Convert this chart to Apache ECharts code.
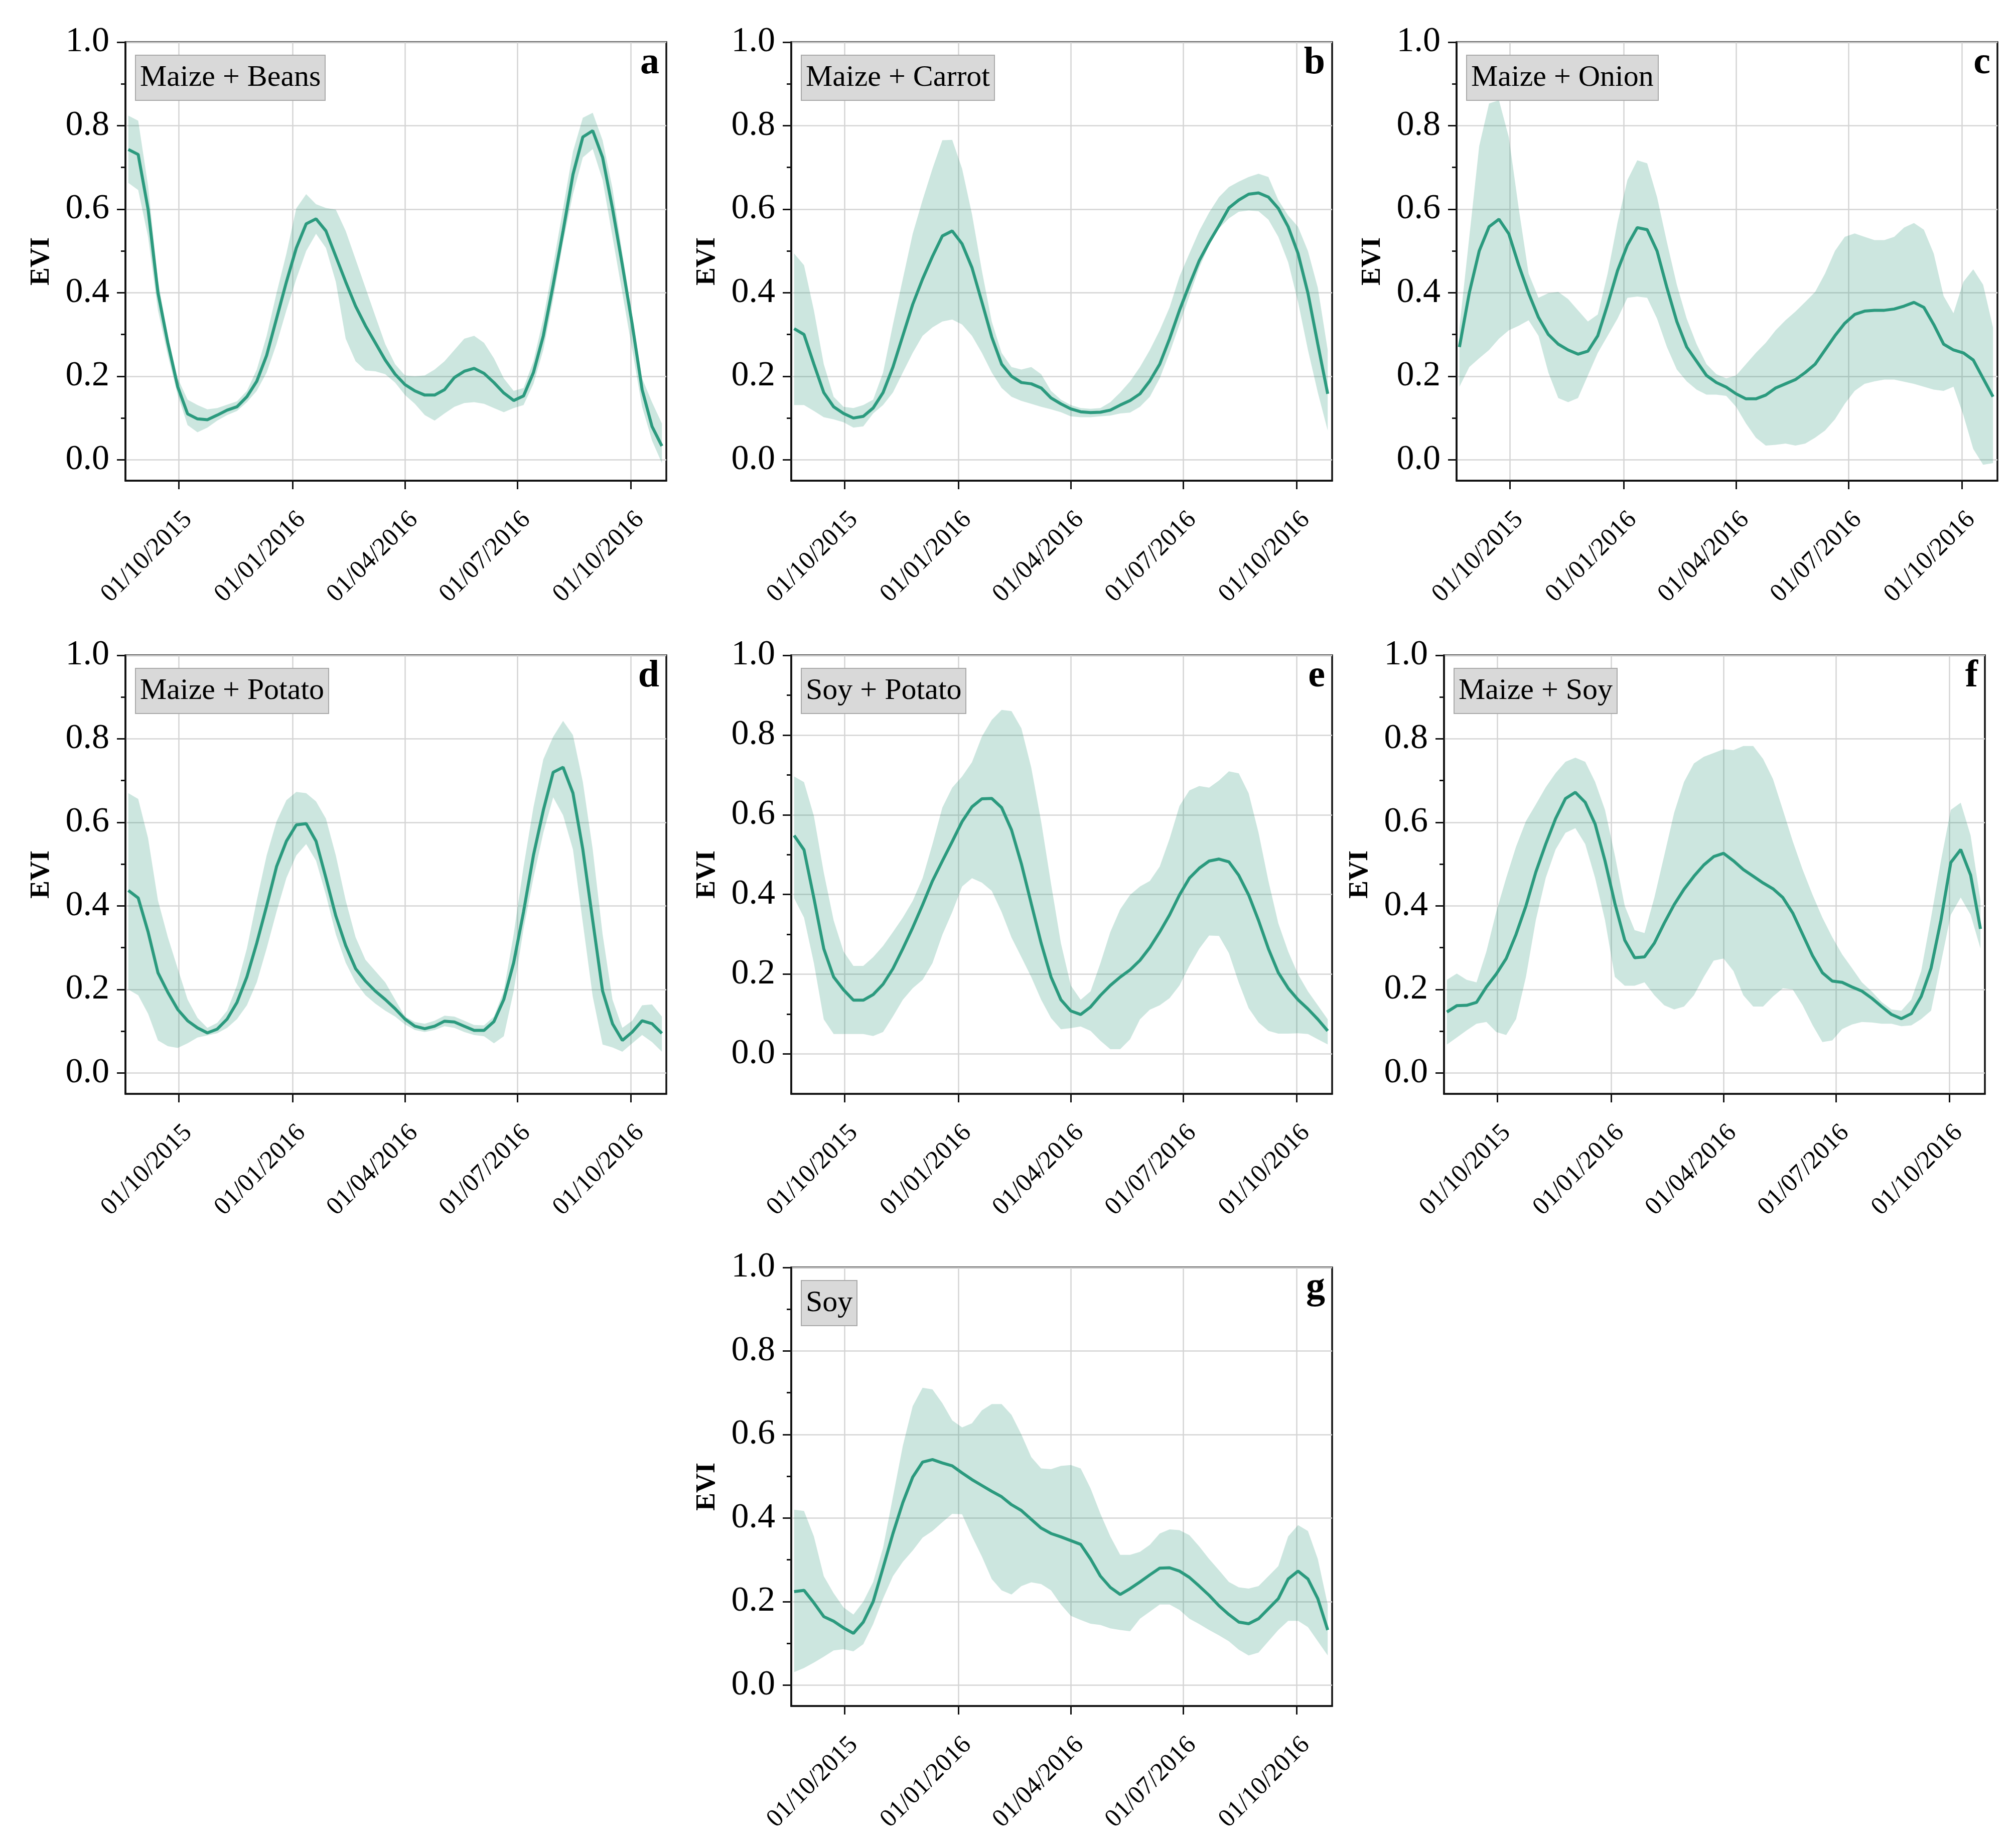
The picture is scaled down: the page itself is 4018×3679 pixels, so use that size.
<!DOCTYPE html>
<html>
<head>
<meta charset="utf-8">
<script src="https://cdn.jsdelivr.net/npm/echarts@6/dist/echarts.min.js"></script>
<style>html,body{margin:0;padding:0;background:#fff}#chart{width:4018px;height:3679px}</style>
</head>
<body>
<div id="chart"></div>
<script>
const dates = ['2015-08-21','2015-08-29','2015-09-06','2015-09-14','2015-09-22','2015-09-30','2015-10-08','2015-10-16','2015-10-24','2015-11-01','2015-11-09','2015-11-17','2015-11-25','2015-12-03','2015-12-11','2015-12-19','2015-12-27','2016-01-04','2016-01-12','2016-01-20','2016-01-28','2016-02-05','2016-02-13','2016-02-21','2016-02-29','2016-03-08','2016-03-16','2016-03-24','2016-04-01','2016-04-09','2016-04-17','2016-04-25','2016-05-03','2016-05-11','2016-05-19','2016-05-27','2016-06-04','2016-06-12','2016-06-20','2016-06-28','2016-07-06','2016-07-14','2016-07-22','2016-07-30','2016-08-07','2016-08-15','2016-08-23','2016-08-31','2016-09-08','2016-09-16','2016-09-24','2016-10-02','2016-10-10','2016-10-18','2016-10-26'];
const tickDates = ['2015-10-01','2016-01-01','2016-04-01','2016-07-01','2016-10-01'];
const yTicks = [0, 0.2, 0.4, 0.6, 0.8, 1.0];
const yMinorTicks = [0.1, 0.3, 0.5, 0.7, 0.9];
const panelNames = ['Maize + Beans','Maize + Carrot','Maize + Onion','Maize + Potato','Soy + Potato','Maize + Soy','Soy'];
const panelLetters = ['a','b','c','d','e','f','g'];

const aMean = [0.743,0.731,0.60,0.40,0.28,0.175,0.11,0.098,0.096,0.107,0.119,0.127,0.151,0.188,0.25,0.338,0.426,0.507,0.565,0.577,0.548,0.487,0.426,0.368,0.321,0.28,0.239,0.205,0.18,0.165,0.155,0.155,0.168,0.197,0.212,0.219,0.207,0.185,0.16,0.142,0.153,0.209,0.297,0.419,0.548,0.683,0.773,0.788,0.724,0.602,0.466,0.324,0.168,0.08,0.033];
const aHigh = [0.824,0.812,0.656,0.43,0.297,0.195,0.144,0.131,0.121,0.124,0.132,0.14,0.165,0.216,0.297,0.399,0.494,0.602,0.636,0.612,0.603,0.599,0.548,0.48,0.412,0.344,0.277,0.229,0.202,0.2,0.202,0.216,0.236,0.263,0.29,0.297,0.28,0.243,0.195,0.165,0.172,0.236,0.338,0.466,0.602,0.738,0.819,0.831,0.765,0.65,0.494,0.344,0.195,0.138,0.087];
const aLow = [0.663,0.646,0.534,0.358,0.25,0.155,0.083,0.066,0.077,0.094,0.107,0.117,0.138,0.165,0.209,0.277,0.358,0.433,0.5,0.541,0.507,0.426,0.29,0.236,0.214,0.212,0.205,0.185,0.155,0.134,0.107,0.094,0.111,0.127,0.136,0.138,0.134,0.124,0.114,0.124,0.131,0.182,0.263,0.385,0.521,0.636,0.724,0.744,0.67,0.534,0.399,0.263,0.127,0.046,-0.008];

const bMean = [0.314,0.30,0.229,0.161,0.127,0.111,0.1,0.104,0.124,0.161,0.222,0.297,0.372,0.433,0.487,0.536,0.548,0.517,0.46,0.378,0.294,0.229,0.2,0.185,0.182,0.172,0.148,0.134,0.122,0.115,0.113,0.114,0.119,0.131,0.142,0.158,0.189,0.229,0.29,0.358,0.419,0.477,0.521,0.561,0.603,0.622,0.636,0.639,0.629,0.602,0.558,0.494,0.399,0.277,0.158];
const bHigh = [0.494,0.466,0.358,0.229,0.151,0.127,0.124,0.131,0.144,0.209,0.324,0.433,0.541,0.622,0.697,0.765,0.766,0.697,0.588,0.453,0.331,0.256,0.222,0.216,0.222,0.205,0.165,0.144,0.131,0.124,0.122,0.124,0.138,0.161,0.188,0.222,0.263,0.31,0.365,0.439,0.494,0.548,0.592,0.629,0.653,0.666,0.677,0.685,0.677,0.622,0.585,0.558,0.5,0.412,0.263];
const bLow = [0.131,0.131,0.117,0.102,0.097,0.09,0.077,0.08,0.111,0.131,0.161,0.209,0.256,0.297,0.317,0.331,0.336,0.324,0.297,0.256,0.209,0.172,0.151,0.141,0.134,0.127,0.121,0.114,0.104,0.102,0.102,0.104,0.106,0.111,0.113,0.127,0.151,0.195,0.256,0.324,0.392,0.46,0.514,0.554,0.578,0.594,0.597,0.595,0.575,0.534,0.473,0.378,0.263,0.161,0.07];

const cMean = [0.27,0.40,0.50,0.558,0.576,0.541,0.466,0.399,0.341,0.30,0.277,0.263,0.253,0.26,0.297,0.372,0.453,0.514,0.556,0.551,0.50,0.412,0.331,0.27,0.236,0.202,0.185,0.174,0.158,0.146,0.146,0.155,0.172,0.182,0.192,0.209,0.229,0.263,0.297,0.327,0.348,0.356,0.358,0.358,0.361,0.368,0.377,0.365,0.324,0.277,0.263,0.256,0.239,0.195,0.151];
const cHigh = [0.317,0.534,0.751,0.853,0.861,0.772,0.602,0.446,0.388,0.399,0.402,0.385,0.358,0.331,0.348,0.446,0.568,0.67,0.717,0.71,0.629,0.521,0.419,0.338,0.277,0.229,0.205,0.195,0.202,0.229,0.256,0.28,0.31,0.334,0.355,0.378,0.402,0.446,0.5,0.534,0.542,0.534,0.526,0.526,0.534,0.556,0.567,0.551,0.494,0.392,0.351,0.426,0.456,0.419,0.317];
const cLow = [0.175,0.222,0.243,0.263,0.29,0.31,0.321,0.334,0.297,0.209,0.148,0.138,0.148,0.202,0.256,0.297,0.338,0.388,0.391,0.388,0.338,0.27,0.216,0.188,0.168,0.156,0.156,0.153,0.127,0.087,0.053,0.034,0.036,0.039,0.034,0.039,0.053,0.07,0.097,0.134,0.165,0.182,0.188,0.192,0.192,0.187,0.182,0.175,0.168,0.165,0.175,0.107,0.026,-0.012,-0.008];

const dMean = [0.437,0.419,0.338,0.24,0.193,0.152,0.125,0.108,0.096,0.105,0.129,0.169,0.23,0.311,0.40,0.494,0.555,0.594,0.597,0.555,0.467,0.376,0.305,0.25,0.22,0.196,0.176,0.154,0.129,0.112,0.106,0.112,0.124,0.122,0.112,0.102,0.102,0.123,0.176,0.264,0.386,0.521,0.629,0.72,0.732,0.67,0.535,0.365,0.196,0.118,0.078,0.098,0.125,0.118,0.095];
const dHigh = [0.67,0.656,0.562,0.413,0.325,0.25,0.176,0.132,0.108,0.12,0.149,0.21,0.298,0.413,0.521,0.602,0.653,0.673,0.67,0.65,0.609,0.521,0.413,0.325,0.271,0.244,0.217,0.176,0.135,0.122,0.118,0.125,0.137,0.135,0.125,0.115,0.114,0.135,0.196,0.332,0.494,0.636,0.751,0.805,0.843,0.809,0.697,0.535,0.332,0.176,0.108,0.125,0.162,0.164,0.135];
const dLow = [0.2,0.186,0.142,0.078,0.064,0.06,0.071,0.085,0.09,0.095,0.108,0.129,0.162,0.217,0.298,0.386,0.467,0.521,0.548,0.508,0.426,0.332,0.264,0.217,0.186,0.166,0.149,0.135,0.116,0.103,0.098,0.103,0.112,0.108,0.098,0.091,0.088,0.071,0.088,0.196,0.345,0.467,0.575,0.66,0.617,0.535,0.359,0.183,0.068,0.061,0.051,0.071,0.091,0.074,0.051];

const eMean = [0.548,0.512,0.391,0.264,0.193,0.161,0.135,0.135,0.149,0.175,0.214,0.264,0.317,0.374,0.434,0.484,0.533,0.583,0.62,0.64,0.641,0.618,0.562,0.477,0.377,0.278,0.193,0.136,0.108,0.099,0.118,0.147,0.172,0.193,0.211,0.235,0.267,0.306,0.349,0.399,0.441,0.466,0.484,0.489,0.482,0.448,0.399,0.335,0.264,0.204,0.165,0.136,0.113,0.087,0.058];
const eHigh = [0.696,0.682,0.597,0.455,0.335,0.257,0.221,0.221,0.243,0.271,0.306,0.342,0.384,0.441,0.526,0.618,0.668,0.696,0.732,0.796,0.838,0.863,0.86,0.817,0.718,0.583,0.427,0.278,0.172,0.136,0.157,0.228,0.306,0.363,0.399,0.42,0.434,0.47,0.54,0.622,0.661,0.672,0.668,0.686,0.709,0.704,0.654,0.555,0.434,0.328,0.257,0.2,0.157,0.122,0.087];
const eLow = [0.391,0.342,0.228,0.087,0.05,0.05,0.05,0.05,0.045,0.055,0.094,0.136,0.165,0.186,0.228,0.299,0.356,0.42,0.441,0.43,0.409,0.356,0.292,0.243,0.193,0.136,0.09,0.062,0.065,0.069,0.058,0.033,0.012,0.012,0.037,0.087,0.111,0.122,0.14,0.172,0.221,0.264,0.297,0.296,0.253,0.179,0.115,0.079,0.058,0.051,0.051,0.052,0.05,0.037,0.024];

const fMean = [0.146,0.161,0.162,0.169,0.206,0.237,0.274,0.332,0.40,0.481,0.548,0.609,0.657,0.672,0.648,0.596,0.508,0.406,0.318,0.276,0.278,0.311,0.359,0.403,0.44,0.471,0.498,0.518,0.526,0.508,0.487,0.471,0.455,0.441,0.42,0.383,0.332,0.281,0.24,0.22,0.217,0.206,0.196,0.179,0.159,0.14,0.13,0.142,0.183,0.251,0.366,0.504,0.535,0.474,0.345];
const fHigh = [0.223,0.238,0.223,0.217,0.291,0.386,0.467,0.542,0.603,0.643,0.684,0.718,0.745,0.755,0.745,0.697,0.63,0.521,0.40,0.342,0.335,0.42,0.521,0.623,0.697,0.741,0.757,0.766,0.775,0.773,0.783,0.783,0.752,0.704,0.63,0.555,0.487,0.427,0.372,0.325,0.284,0.251,0.217,0.195,0.17,0.152,0.149,0.176,0.244,0.372,0.508,0.63,0.647,0.569,0.413];
const fLow = [0.068,0.085,0.102,0.118,0.122,0.098,0.091,0.129,0.23,0.366,0.467,0.535,0.575,0.586,0.548,0.467,0.366,0.23,0.209,0.209,0.217,0.186,0.162,0.152,0.159,0.186,0.23,0.269,0.274,0.244,0.186,0.159,0.159,0.183,0.203,0.2,0.162,0.115,0.074,0.078,0.105,0.116,0.122,0.121,0.118,0.118,0.112,0.114,0.129,0.149,0.264,0.379,0.42,0.379,0.298];

const gMean = [0.224,0.227,0.197,0.164,0.153,0.137,0.124,0.151,0.20,0.281,0.363,0.437,0.498,0.534,0.54,0.532,0.525,0.508,0.492,0.478,0.464,0.451,0.432,0.418,0.397,0.376,0.363,0.355,0.346,0.337,0.302,0.261,0.234,0.217,0.231,0.247,0.264,0.28,0.281,0.273,0.258,0.237,0.215,0.19,0.169,0.151,0.147,0.159,0.183,0.207,0.254,0.273,0.254,0.207,0.132];
const gHigh = [0.42,0.417,0.356,0.261,0.22,0.186,0.169,0.2,0.247,0.329,0.451,0.573,0.668,0.712,0.708,0.675,0.634,0.617,0.627,0.658,0.673,0.673,0.647,0.60,0.546,0.519,0.517,0.525,0.527,0.519,0.471,0.41,0.356,0.312,0.312,0.319,0.336,0.363,0.373,0.371,0.359,0.332,0.302,0.275,0.247,0.234,0.231,0.237,0.261,0.285,0.356,0.383,0.369,0.302,0.193];
const gLow = [0.031,0.041,0.054,0.068,0.083,0.086,0.081,0.098,0.146,0.207,0.261,0.295,0.322,0.353,0.369,0.39,0.41,0.409,0.356,0.308,0.254,0.227,0.217,0.237,0.246,0.242,0.227,0.193,0.166,0.156,0.147,0.144,0.136,0.132,0.129,0.159,0.176,0.193,0.193,0.18,0.159,0.146,0.132,0.119,0.105,0.085,0.071,0.078,0.105,0.132,0.154,0.154,0.139,0.105,0.071];

const panelMeans = [aMean, bMean, cMean, dMean, eMean, fMean, gMean];
const panelHighs = [aHigh, bHigh, cHigh, dHigh, eHigh, fHigh, gHigh];
const panelLows = [aLow, bLow, cLow, dLow, eLow, fLow, gLow];
const panelYMin = [-0.05, -0.05, -0.05, -0.05, -0.1, -0.05, -0.05];

// layout (pixels)
const positions = [[250,84],[1577,84],[2903,84],[250,1306],[1577,1306],[2878,1306],[1577,2526]];
const W = 1078, H = 874;
const X_MIN = '2015-08-18 16:00:00', X_MAX = '2016-10-29 14:00:00';
const FONT = '"Liberation Serif", "Times New Roman", serif';
const LINE = '#2b9a7e';
const BAND = 'rgba(46,154,125,0.245)';
const GRIDC = '#d4d4d4';

const ts = s => +echarts.time.parse(s);
const xMin = ts(X_MIN), xMax = ts(X_MAX);
const tickTs = tickDates.map(ts);

const chart = echarts.init(document.getElementById('chart'), null, {renderer: 'canvas'});
const option = {backgroundColor: '#ffffff', animation: false, grid: [], xAxis: [], yAxis: [], series: [], title: []};

panelNames.forEach((name, i) => {
  const [left, top] = positions[i];
  const ymin = panelYMin[i];
  option.grid.push({left, top, width: W, height: H, show: true, borderColor: '#111', borderWidth: 3.5, backgroundColor: 'transparent'});
  // time axis used by the series (hidden)
  option.xAxis.push({type: 'time', gridIndex: i, min: xMin, max: xMax, show: false});
  // value axis (same extent) drawing ticks, labels and vertical grid lines
  option.xAxis.push({
    type: 'value', gridIndex: i, min: xMin, max: xMax, position: 'bottom',
    axisLine: {show: true, onZero: false, lineStyle: {color: '#111', width: 3.5}},
    axisTick: {show: true, customValues: tickTs, length: 17, lineStyle: {color: '#111', width: 3}},
    axisLabel: {show: true, customValues: tickTs, rotate: 45, margin: 52, verticalAlign: 'top',
      fontFamily: FONT, fontSize: 51, color: '#000',
      formatter: v => echarts.time.format(v, '{dd}/{MM}/{yyyy}', false)},
    splitLine: {show: true, lineStyle: {color: GRIDC, width: 2.5}}
  });
  option.yAxis.push({
    type: 'value', gridIndex: i, min: ymin, max: 1,
    name: 'EVI', nameLocation: 'middle', nameGap: 140,
    nameTextStyle: {fontFamily: FONT, fontSize: 54, fontWeight: 'bold', color: '#000'},
    axisLine: {show: true, onZero: false, lineStyle: {color: '#111', width: 3.5}},
    axisTick: {show: true, customValues: yTicks, length: 17, lineStyle: {color: '#111', width: 3}},
    axisLabel: {show: true, customValues: yTicks, margin: 32, fontFamily: FONT, fontSize: 70, color: '#000',
      padding: [0, 0, 14, 0], formatter: v => v.toFixed(1)},
    splitLine: {show: true, lineStyle: {color: GRIDC, width: 2.5}}
  });
  option.yAxis.push({
    type: 'value', gridIndex: i, min: ymin, max: 1, position: 'left',
    axisLine: {show: false}, axisLabel: {show: false}, splitLine: {show: false},
    axisTick: {show: true, customValues: yMinorTicks, length: 9, lineStyle: {color: '#111', width: 3}}
  });
  const low = panelLows[i], high = panelHighs[i], mean = panelMeans[i];
  const xi = 2 * i, yi = 2 * i;
  option.series.push({
    type: 'line', xAxisIndex: xi, yAxisIndex: yi, stack: 'band' + i, stackStrategy: 'all',
    symbol: 'none', silent: true, lineStyle: {opacity: 0},
    data: dates.map((d, j) => [d, low[j]])
  });
  option.series.push({
    type: 'line', xAxisIndex: xi, yAxisIndex: yi, stack: 'band' + i, stackStrategy: 'all',
    symbol: 'none', silent: true, lineStyle: {opacity: 0},
    areaStyle: {color: BAND, opacity: 1},
    data: dates.map((d, j) => [d, +(high[j] - low[j]).toFixed(4)])
  });
  option.series.push({
    type: 'line', xAxisIndex: xi, yAxisIndex: yi, symbol: 'none', z: 5,
    lineStyle: {color: LINE, width: 6},
    data: dates.map((d, j) => [d, mean[j]])
  });
  option.title.push({
    text: name, left: left + 20, top: top + 26,
    backgroundColor: '#d9d9d9', borderColor: '#a9a9a9', borderWidth: 2, padding: [12, 9, 12, 9],
    textStyle: {fontFamily: FONT, fontSize: 60, fontWeight: 'normal', color: '#000', lineHeight: 66}
  });
  option.title.push({
    text: panelLetters[i], right: 4018 - (left + W - 14), top: top + 4, padding: 0,
    textStyle: {fontFamily: FONT, fontSize: 76, fontWeight: 'bold', color: '#000'}
  });
});

chart.setOption(option);
</script>
</body>
</html>
